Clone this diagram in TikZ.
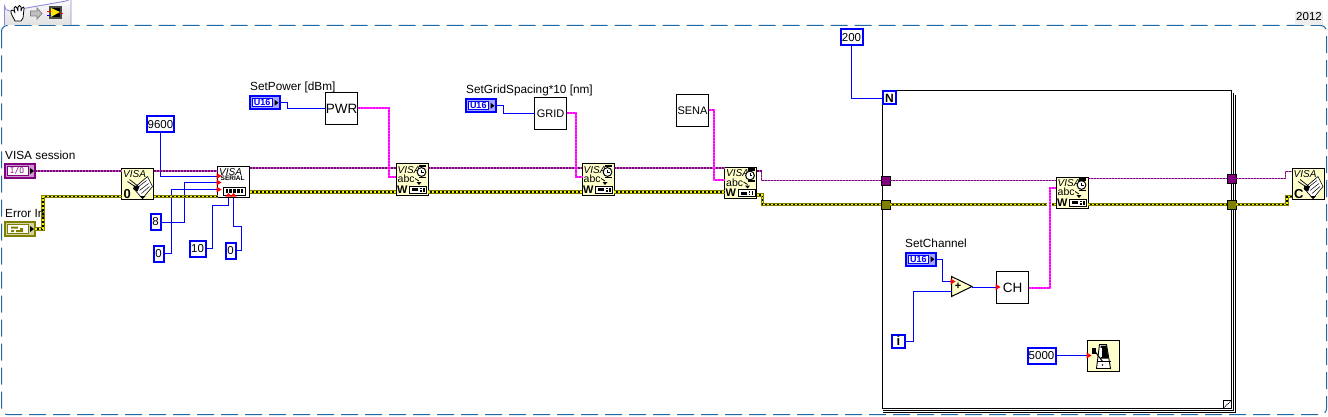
\documentclass[tikz,border=0pt]{standalone}
\usepackage{fontspec}
\setmainfont{Liberation Sans}
\usetikzlibrary{calc}
\definecolor{frameblue}{HTML}{1F6AA5}
\definecolor{numblue}{HTML}{0000FF}
\definecolor{visapurple}{HTML}{800080}
\definecolor{errolive}{HTML}{808000}
\definecolor{erryellow}{HTML}{F4F400}
\definecolor{strpink}{HTML}{FF00FF}
\definecolor{paleblock}{HTML}{FFFFCC}
\tikzset{
 x=1pt,y=-1pt,
 lbl/.style={font=\fontsize{11.8}{12}\selectfont,anchor=west,inner sep=0pt,text=black},
 numc/.style={draw=numblue,line width=2pt,fill=white,anchor=north west,inner sep=0pt,outer sep=0pt,font=\fontsize{11.5}{12}\selectfont},
 box/.style={draw=black,line width=1pt,fill=white,anchor=north west,minimum width=32pt,minimum height=32pt,inner sep=0pt,outer sep=0pt,font=\fontsize{11}{11}\selectfont},
 blk/.style={draw=black,line width=1pt,fill=paleblock,anchor=north west,minimum width=32pt,minimum height=31pt,inner sep=0pt,outer sep=0pt},
 numw/.style={draw=numblue,line width=1pt},
 dot/.style={fill=red,draw=none},
 tun/.style={draw=black,line width=1pt,anchor=center,minimum width=9pt,minimum height=9pt,inner sep=0pt,outer sep=0pt},
 ctl/.style={line width=2pt,anchor=north west,inner sep=0pt,outer sep=0pt},
}
\newcommand{\errw}[1]{\draw[draw=errolive,line width=3.4pt] #1; \draw[draw=black,line width=1.6pt] #1; \draw[draw=erryellow,line width=1.6pt,dash pattern=on 2pt off 2pt] #1;}
\newcommand{\visw}[1]{\draw[draw=visapurple!60,line width=1.8pt] #1; \draw[draw=visapurple,line width=1.8pt,dash pattern=on 2pt off 1pt] #1;}
\newcommand{\strw}[1]{\draw[draw=strpink!75,line width=2pt] #1; \draw[draw=strpink,line width=2pt,dash pattern=on 2pt off 1pt] #1;}
\newcommand{\reddot}[1]{\fill[dot] #1 ++(-1,-3) -- ++(5,3) -- ++(-5,3) -- cycle;}
\newcommand{\writeicon}[1]{%
 \node[anchor=west,inner sep=0pt,font=\itshape\fontsize{10}{10}\selectfont] at ($(#1.north west)+(1.5,6)$) {VISA};
 \node[anchor=west,inner sep=0pt,font=\fontsize{10.5}{10}\selectfont] at ($(#1.north west)+(1.5,15)$) {abc};
 \draw[line width=.8pt] ($(#1.north west)+(19,14.5)$) -- ++(4,2.5) ;
 \fill ($(#1.north west)+(20.5,18)$) -- ++(5,0) -- ++(-2.5,3) -- cycle;
 \fill ($(#1.north west)+(23,1)$) rectangle ++(7,2.5);
 \draw[fill=white,line width=1pt] ($(#1.north west)+(25.5,8)$) circle (4.4);
 \draw[line width=.7pt] ($(#1.north west)+(25.5,5.5)$) -- ++(0,2.5) -- ++(2,0);
 \fill ($(#1.north west)+(23,12.5)$) rectangle ++(7,1.6);
 \node[anchor=west,inner sep=0pt,font=\bfseries\fontsize{11}{11}\selectfont] at ($(#1.north west)+(1,25.5)$) {W};
 \draw[line width=1pt,fill=white] ($(#1.north west)+(13.5,22)$) rectangle ++(17,7);
 \fill ($(#1.north west)+(16,24)$) rectangle ++(6,3);
 \fill ($(#1.north west)+(24,23.5)$) rectangle ++(1.5,1.5);
 \fill ($(#1.north west)+(24,26)$) rectangle ++(1.5,1.5);
 \fill ($(#1.north west)+(27,23.5)$) rectangle ++(1.5,4);
}
\newcommand{\bookicon}[2]{%
 \node[anchor=west,inner sep=0pt,font=\itshape\fontsize{10}{10}\selectfont] at ($(#1.north west)+(1.5,6)$) {VISA};
 \node[anchor=west,inner sep=0pt,font=\bfseries\fontsize{13}{13}\selectfont] at ($(#1.north west)+(2,25.5)$) {#2};
 \draw[line width=.6pt,fill=white] ($(#1.north west)+(12,20)$) -- ++(14,-12) -- ++(5,10) -- ++(-10,12) -- cycle;
 \draw[line width=.5pt] ($(#1.north west)+(16,19)$) -- ++(9,-7) ($(#1.north west)+(18,22)$) -- ++(9,-7) ($(#1.north west)+(20,25)$) -- ++(8,-7);
 \draw[line width=.7pt] ($(#1.north west)+(6,13)$) -- ++(9,6) ++(-7,-8) -- ++(9,7);
 \fill ($(#1.north west)+(12,17)$) -- ++(6,1) -- ++(-2,5) -- ++(-4,-2) -- cycle;
 \fill ($(#1.north west)+(18,27.5)$) -- ++(6,0) -- ++(-3,3) -- cycle;
}
\begin{document}
\begin{tikzpicture}[x=1pt,y=-1pt]
\useasboundingbox (0,0) rectangle (1328,417);
\fill[white] (0,0) rectangle (1328,417);
% frame
\draw[frameblue,line width=1pt,dash pattern=on 17pt off 7pt,rounded corners=6pt] (1.5,25.5) rectangle (1326.5,414.5);
% toolbar tab
\draw[draw=gray!50!blue!60!white,top color=white,bottom color=black!12,line width=.9pt] (4.5,25) -- (4.5,6) arc[start angle=180,end angle=90,radius=5] -- (66,1) arc[start angle=90,end angle=0,radius=5] -- (71,25);
% hand
\draw[line width=.8pt,fill=white,line join=round] (14,19) .. controls (11,14) and (10,11) .. (12,10) .. controls (14,10) and (15,12) .. (15,13) -- (14,8) .. controls (14,6) and (17,6) .. (17,8) -- (18,11) -- (18,7) .. controls (18,5) and (21,5) .. (21,7) -- (21,11) -- (22,8) .. controls (23,6) and (25,7) .. (24,9) -- (23,18) -- (21,21) -- (15,21) -- cycle;
% arrow
\draw[draw=gray,fill=gray!50,line width=.8pt] (30.5,11) -- (37,11) -- (37,8) -- (42,13.5) -- (37,19) -- (37,16) -- (30.5,16) -- cycle;
% vi run icon
\fill[gray!60!black] (49,6) rectangle (62,19);
\fill[black] (51,8) rectangle (60,17);
\fill[yellow!90!orange] (51,8) -- (60,12) -- (51,17) -- cycle;
\draw[red,line width=.7pt] (47,11) -- (51,11) (60,13) -- (63,13);
\draw[blue,line width=.7pt] (47,15) -- (51,15);
% version tab
\fill[black!7] (1295,11) rectangle (1323,25);
\node[font=\fontsize{11.5}{12}\selectfont,anchor=east,inner sep=0pt] (ver) at (1322,17) {2012};

% ---- loop frame
\draw[line width=1pt] (1235.5,95) -- (1235.5,412.5) -- (883,412.5);
\draw[line width=1pt] (1233.5,93) -- (1233.5,410.5) -- (883,410.5);
\node[draw=black,line width=1pt,fill=white,anchor=north west,minimum width=349.5pt,minimum height=317.5pt,outer sep=0pt,inner sep=0pt] (loop) at (882,90.5) {};
\draw[line width=1pt] (1223.5,408) -- (1223.5,400.5) -- (1231.5,400.5);
\draw[line width=.8pt,dash pattern=on 1.2pt off .8pt] (1223.5,408) -- (1231.5,400.5);

% ---- tunnels
\node[tun,fill=visapurple] (tv1) at (885.5,180.5) {};
\node[tun,fill=errolive] (te1) at (885.5,204.5) {};
\node[tun,fill=visapurple] (tv2) at (1231.5,178.5) {};
\node[tun,fill=errolive] (te2) at (1231.5,204.5) {};

% ---- blocks
\node[blk] (open) at (121.5,168.5) {};
\node[box,minimum height=31pt] (serial) at (217.5,166.5) {};
\node[blk] (w1) at (396,164) {};
\node[blk] (w2) at (582,164) {};
\node[blk] (w3) at (724.5,167.5) {};
\node[blk] (w4) at (1056,177) {};
\node[blk] (close) at (1292,168.5) {};
\node[blk,minimum height=31pt] (wait) at (1087.5,340.5) {};
\node[box] (pwr) at (325.5,92.5) {\fontsize{13.5}{13}\selectfont PWR};
\node[box] (grid) at (534.5,97.5) {GRID};
\node[box] (sena) at (676.5,94.5) {SENA};
\node[box] (ch) at (996.5,271.5) {\fontsize{13.5}{13}\selectfont CH};

% ---- constants
\node[numc,minimum width=27pt,minimum height=16pt] (n9600) at (147,116.5) {9600};
\node[numc,minimum width=10pt,minimum height=16pt] (n8) at (150.5,214) {8};
\node[numc,minimum width=10pt,minimum height=16pt] (n0a) at (153.5,245.5) {0};
\node[numc,minimum width=16pt,minimum height=16pt] (n10) at (189.5,240.5) {10};
\node[numc,minimum width=10pt,minimum height=16pt] (n0b) at (225.5,242.5) {0};
\node[numc,minimum width=22pt,minimum height=16pt] (n200) at (840.5,29.5) {200};
\node[numc,minimum width=28pt,minimum height=16pt] (n5000) at (1027.5,347.5) {5000};
\node[numc,minimum width=13pt,minimum height=13pt,font=\bfseries\fontsize{13}{13}\selectfont] (iter) at (892,334.5) {i};
\node[numc,minimum width=13pt,minimum height=13pt,font=\bfseries\fontsize{12}{12}\selectfont] (cnt) at (883,91.5) {N};

% ---- U16 controls
\foreach \nm/\xx/\yy in {uPwr/250/96,uGrid/466/99,uCh/906/252.5}{
 \node[ctl,draw=numblue,fill=numblue!35,minimum width=29.5pt,minimum height=13.5pt] (\nm) at (\xx,\yy) {};
 \draw[numblue,line width=1pt,fill=white] ($(\nm.north west)+(2.5,2.5)$) rectangle ($(\nm.south east)+(-7,-2.5)$);
 \node[font=\bfseries\fontsize{9}{9}\selectfont,text=numblue,inner sep=0pt] at ($(\nm.center)+(-2.5,0)$) {U16};
 \fill[black] ($(\nm.east)+(-5,-3)$) -- ++(4,3) -- ++(-4,3) -- cycle;
}
% I/O control
\node[ctl,draw=visapurple,fill=visapurple!40,minimum width=30pt,minimum height=13pt] (ioc) at (5,164.5) {};
\draw[visapurple,line width=1pt,fill=white] ($(ioc.north west)+(2.5,2.5)$) rectangle ($(ioc.south east)+(-7,-2.5)$);
\node[font=\ttfamily\fontsize{9}{9}\selectfont,text=visapurple,inner sep=0pt] at ($(ioc.center)+(-3,0)$) {I/O};
\fill[black] ($(ioc.east)+(-5,-3)$) -- ++(4,3) -- ++(-4,3) -- cycle;
% error control
\node[ctl,draw=errolive,fill=errolive!35,minimum width=30pt,minimum height=14pt] (erc) at (5,222) {};
\draw[errolive,line width=1pt,fill=white] ($(erc.north west)+(2.5,2.5)$) rectangle ($(erc.south east)+(-7,-2.5)$);
\fill[errolive] ($(erc.west)+(6,-2.5)$) rectangle ++(7,2) ($(erc.west)+(15,-1)$) rectangle ++(3,2) ($(erc.west)+(6,1)$) rectangle ++(3,2) ($(erc.west)+(11,1)$) rectangle ++(7,2);
\fill[black] ($(erc.east)+(-5,-3)$) -- ++(4,3) -- ++(-4,3) -- cycle;

% ---- add
\node[inner sep=0pt,outer sep=0pt,minimum size=0pt] (addc) at (951.5,286.5) {};
\draw[line width=1pt,fill=paleblock] (951.5,276.5) -- (972,286.5) -- (951.5,296.5) -- cycle;
\node[font=\bfseries\fontsize{11}{11}\selectfont,inner sep=0pt] at (958,286) {+};
\coordinate (addOut) at (972,287);

% ---- wires: numeric
\draw[numw] (n9600.south) |- ([yshift=-9.5pt]serial.north west);
\draw[numw] (n8.east) -| (184,182.5) -- ([yshift=-16pt]serial.north west);
\draw[numw] (n0a.east) -| (171.5,189.5) -- ([yshift=-23pt]serial.north west);
\draw[numw] (n10.east) -| (212,205.5) -| ([xshift=11pt]serial.south west);
\draw[numw] (n0b.east) -| (241.5,226.5) -| ([xshift=16pt]serial.south west);
\draw[numw] (n200.south) |- ([yshift=-7pt]cnt.north west);
\draw[numw] (uPwr.east) -| (287.5,108.5) -- ([yshift=-16pt]pwr.north west);
\draw[numw] (uGrid.east) -| (503.5,113.5) -- ([yshift=-16pt]grid.north west);
\draw[numw] (uCh.east) -| (942.5,281.5) -- ([yshift=5pt]addc.center);
\draw[numw] (iter.east) -| (913.5,291.5) -- ([yshift=-5pt]addc.center);
\draw[numw] (addOut) -- ([yshift=-15.5pt]ch.north west);
\draw[numw] (n5000.east) -- ([yshift=-15pt]wait.north west);

% ---- wires: visa
\visw{(ioc.east) -- ([yshift=-2.5pt]open.north west)}
\visw{([yshift=-2.5pt]open.north east) -- ([yshift=-4.5pt]serial.north west)}
\visw{([yshift=-1.5pt]serial.north east) -- ([yshift=-4pt]w1.north west)}
\visw{([yshift=-4pt]w1.north east) -- ([yshift=-4pt]w2.north west)}
\visw{([yshift=-4pt]w2.north east) -- ([yshift=-.5pt]w3.north west)}
\visw{([yshift=-3.5pt]w3.north east) -| (761.5,180.5) -- (tv1.west)}
\visw{(tv1.east) -- ([yshift=-3.5pt]w4.north west)}
\visw{([yshift=-1.5pt]w4.north east) -- (tv2.west)}
\visw{(tv2.east) -| (1285.5,171.5) -- ([yshift=-3pt]close.north west)}

% ---- wires: error
\errw{(erc.east) -| (43,196.5) -- ([yshift=-28pt]open.north west)}
\errw{([yshift=-28pt]open.north east) -- ([yshift=-30pt]serial.north west)}
\errw{([yshift=-25.5pt]serial.north east) -- ([yshift=-28pt]w1.north west)}
\errw{([yshift=-28pt]w1.north east) -- ([yshift=-28pt]w2.north west)}
\errw{([yshift=-28pt]w2.north east) -- ([yshift=-24.5pt]w3.north west)}
\errw{([yshift=-27.5pt]w3.north east) -| (762.5,204.5) -- (te1.west)}
\errw{(te1.east) -- ([yshift=-27.5pt]w4.north west)}
\errw{([yshift=-27.5pt]w4.north east) -- (te2.west)}
\errw{(te2.east) -| (1287,196.5) -- ([yshift=-28pt]close.north west)}

% ---- wires: string
\strw{([yshift=-16pt]pwr.north east) -| (389,176.5) -- ([yshift=-12.5pt]w1.north west)}
\strw{([yshift=-16pt]grid.north east) -| (575.5,176.5) -- ([yshift=-12.5pt]w2.north west)}
\strw{([yshift=-16pt]sena.north east) -| (714,179.5) -- ([yshift=-12pt]w3.north west)}
\draw[white,line width=5pt] (1049.5,200) -- (1049.5,209);
\strw{([yshift=-16pt]ch.north east) -| (1049.5,188) -- ([yshift=-11pt]w4.north west)}

% ---- icons
\bookicon{open}{0}
\bookicon{close}{C}
\writeicon{w1}\writeicon{w2}\writeicon{w3}\writeicon{w4}
% serial
\node[anchor=west,inner sep=0pt,font=\itshape\fontsize{10}{10}\selectfont] at ($(serial.north west)+(1.5,5.5)$) {VISA};
\node[anchor=west,inner sep=0pt,font=\bfseries\fontsize{6.5}{6.5}\selectfont] at ($(serial.north west)+(3,12)$) {SERIAL};
\draw[line width=.9pt,fill=white] ($(serial.north west)+(6,20.5)$) rectangle ++(22,8);
\foreach \i in {0,...,4}{\fill ($(serial.north west)+(8,22.5)+(3.8*\i,0)$) rectangle ++(2.6,4);}
% metronome
\draw[line width=.9pt,fill=white] ($(wait.north west)+(9,28)$) -- ++(3,-24) -- ++(7,0) -- ++(4,24) -- cycle;
\fill ($(wait.north west)+(13,5)$) -- ++(6,0) -- ++(2,13) -- ++(-8,0) -- cycle;
\fill[white] ($(wait.north west)+(12,7)$) -- ++(2,0) -- ++(0,9) -- ++(-2,0) -- cycle;
\draw[line width=1pt] ($(wait.north west)+(15,21)$) -- ($(wait.north west)+(6,9)$);
\fill ($(wait.north west)+(4,7)$) rectangle ++(4,6);
\draw[line width=.6pt] ($(wait.north west)+(10,21)$) -- ++(13,0);
\fill ($(wait.north west)+(15,24.5)$) circle (.9);

% ---- coercion dots
\reddot{([yshift=-9.5pt]serial.north west)}
\reddot{([yshift=-16pt]serial.north west)}
\reddot{([yshift=-23pt]serial.north west)}
\fill[dot] ([xshift=8pt,yshift=1pt]serial.south west) -- ++(6,0) -- ++(-3,-3.5) -- cycle;
\fill[dot] ([xshift=13pt,yshift=1pt]serial.south west) -- ++(6,0) -- ++(-3,-3.5) -- cycle;
\reddot{(951.5,281.5)}
\reddot{([yshift=-15.5pt]ch.north west)}
\reddot{([yshift=-15pt]wait.north west)}

% ---- labels
\node[lbl] (lv) at (5,155) {VISA session};
\node[lbl] (le) at (5,213) {Error In};
\node[lbl] (lp) at (250,87) {SetPower [dBm]};
\node[lbl] (lg) at (466,90) {SetGridSpacing*10 [nm]};
\node[lbl] (lc) at (905,243) {SetChannel};
\end{tikzpicture}
\end{document}
